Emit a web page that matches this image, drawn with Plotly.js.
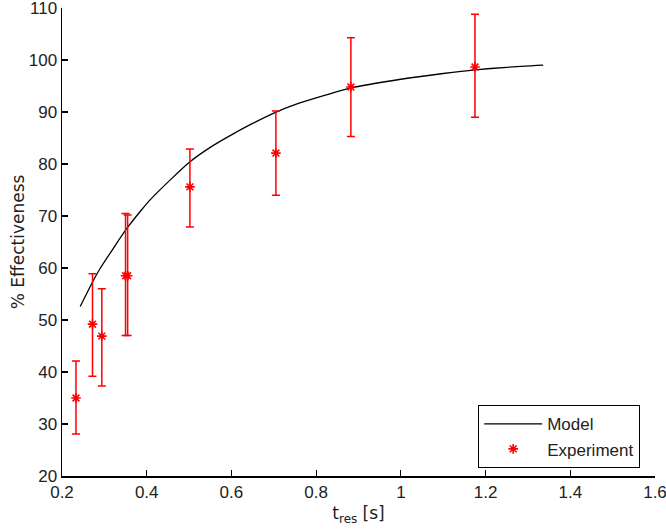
<!DOCTYPE html>
<html>
<head>
<meta charset="utf-8">
<script src="https://cdn.plot.ly/plotly-3.0.1.min.js"></script>
<style>html,body{margin:0;padding:0;background:#fff;}#chart{width:666px;height:529px;}</style>
</head>
<body>
<div id="chart"></div>
<script>
// Model curve
var modelX = [0.243, 0.274, 0.290, 0.353, 0.388, 0.408, 0.455, 0.500, 0.550, 0.600, 0.650, 0.700, 0.750, 0.800, 0.880, 1.000, 1.100, 1.175, 1.250, 1.336];
var modelY = [52.6, 57.6, 59.9, 67.6, 71.2, 73.1, 76.9, 80.3, 83.2, 85.6, 87.8, 89.8, 91.4, 92.7, 94.6, 96.3, 97.4, 98.1, 98.6, 99.0];

// Experimental points with error bars
var expX    = [0.233, 0.272, 0.294, 0.350, 0.355, 0.502, 0.705, 0.882, 1.175];
var expY    = [35.0, 49.2, 46.9, 58.5, 58.5, 75.6, 82.1, 94.8, 98.65];
var expHigh = [42.1, 58.9, 56.0, 70.5, 70.2, 82.9, 90.2, 104.3, 108.8];
var expLow  = [28.1, 39.2, 37.3, 47.0, 47.0, 67.9, 74.0, 85.3, 89.0];

var errPlus = expY.map(function(v, i){ return expHigh[i] - v; });
var errMinus = expY.map(function(v, i){ return v - expLow[i]; });

var xTicks = [0.2, 0.4, 0.6, 0.8, 1, 1.2, 1.4, 1.6];
var xTickText = ['0.2', '0.4', '0.6', '0.8', '1', '1.2', '1.4', '1.6'];
var yTicks = [20, 30, 40, 50, 60, 70, 80, 90, 100, 110];

var font = {family: 'Liberation Sans, Arial, sans-serif', size: 17, color: '#222'};
var titleFont = {family: 'DejaVu Sans, sans-serif', size: 17, color: '#222'};

var traces = [
  {
    x: modelX, y: modelY, type: 'scatter', mode: 'lines', name: 'Model',
    line: {color: '#000', width: 1.3, shape: 'spline', smoothing: 0.6}
  },
  {
    x: expX, y: expY, type: 'scatter', mode: 'markers', name: 'Experiment',
    marker: {symbol: 'asterisk-open', size: 8, color: '#ff0000', line: {color: '#ff0000', width: 1.6}},
    error_y: {type: 'data', symmetric: false, array: errPlus, arrayminus: errMinus,
              color: '#ff0000', thickness: 1.5, width: 4}
  }
];

var layout = {
  width: 666, height: 529,
  margin: {l: 62, r: 11, t: 8, b: 53},
  paper_bgcolor: '#fff', plot_bgcolor: '#fff',
  font: font,
  showlegend: true,
  xaxis: {
    range: [0.2, 1.6], tickvals: xTicks, ticktext: xTickText,
    showgrid: false, zeroline: false, showline: true, linecolor: '#000', linewidth: 1.5,
    ticks: 'inside', ticklen: 6, tickwidth: 1.2, tickcolor: '#000',
    tickfont: font, ticklabeloverflow: 'allow',
    title: {text: 't<sub>res</sub> [s]', font: titleFont, standoff: 6}
  },
  yaxis: {
    range: [20, 110], tickvals: yTicks,
    showgrid: false, zeroline: false, showline: true, linecolor: '#000', linewidth: 1.5,
    ticks: 'inside', ticklen: 6, tickwidth: 1.2, tickcolor: '#000',
    tickfont: font, ticklabeloverflow: 'allow',
    title: {text: '% Effectiveness', font: titleFont, standoff: 0}
  },
  legend: {
    x: 0.7015, y: 0.017, xanchor: 'left', yanchor: 'bottom',
    bordercolor: '#000', borderwidth: 1.2, bgcolor: '#fff',
    font: font, tracegroupgap: 0, itemwidth: 58
  }
};

Plotly.newPlot('chart', traces, layout, {displayModeBar: false, staticPlot: true});
</script>
</body>
</html>
